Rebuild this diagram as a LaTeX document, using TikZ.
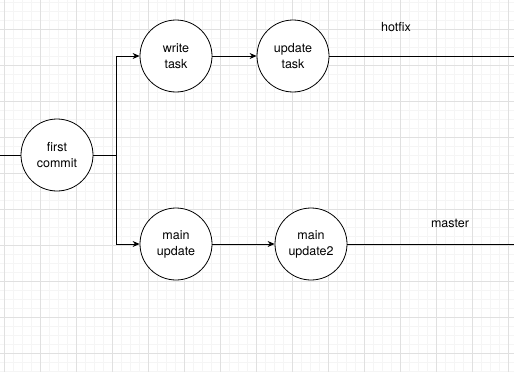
\documentclass[tikz,border=0pt]{standalone}
\usepackage{fontspec}
\setmainfont{TeX Gyre Heros}
\usetikzlibrary{arrows.meta,positioning}
\definecolor{gridminor}{RGB}{245,245,245}
\definecolor{gridmajor}{RGB}{224,224,224}

\begin{document}
\begin{tikzpicture}[
  x=1pt, y=-1pt,
  font=\fontsize{12.5}{16}\selectfont,
  commit/.style={draw, circle, line width=0.8pt, minimum size=72pt, inner sep=0pt, align=center, fill=white},
  branch/.style={draw, line width=0.8pt},
  arr/.style={branch, -{Stealth[length=7pt,width=6pt]}},
  minorline/.style={gridminor, line width=0.5pt},
  majorline/.style={gridmajor, line width=0.6pt},
]
\useasboundingbox[fill=white] (0,0) rectangle (514,372);
% background grid
\foreach \x in {4,13,...,513} \draw[minorline] (\x,0) -- (\x,372);
\foreach \y in {2,11,...,371} \draw[minorline] (0,\y) -- (514,\y);
\foreach \x in {4,40,...,513} \draw[majorline] (\x,0) -- (\x,372);
\foreach \y in {29,65,...,371} \draw[majorline] (0,\y) -- (514,\y);

\node[commit] (fc) at (57,155) {first\\commit};
\node[commit] (wt) at (176,56) {write\\task};
\node[commit] (ut) at (293,56) {update\\task};
\node[commit] (mu) at (176,244) {main\\update};
\node[commit] (mu2) at (311,244) {main\\update2};

\coordinate (in) at (0,155);
\coordinate (split) at (116,155);
\coordinate (hotend) at (514,56);
\coordinate (masterend) at (514,244);

\draw[branch] (in) -- (fc);
\draw[branch] (fc) -- (split);
\draw[arr] (split) |- (wt);
\draw[arr] (split) |- (mu);
\draw[arr] (wt) -- (ut);
\draw[arr] (mu) -- (mu2);
\draw[branch] (ut) -- (hotend);
\draw[branch] (mu2) -- (masterend);

\node (hotfix) at (396,27) {hotfix};
\node (master) at (450,223) {master};
\end{tikzpicture}
\end{document}
